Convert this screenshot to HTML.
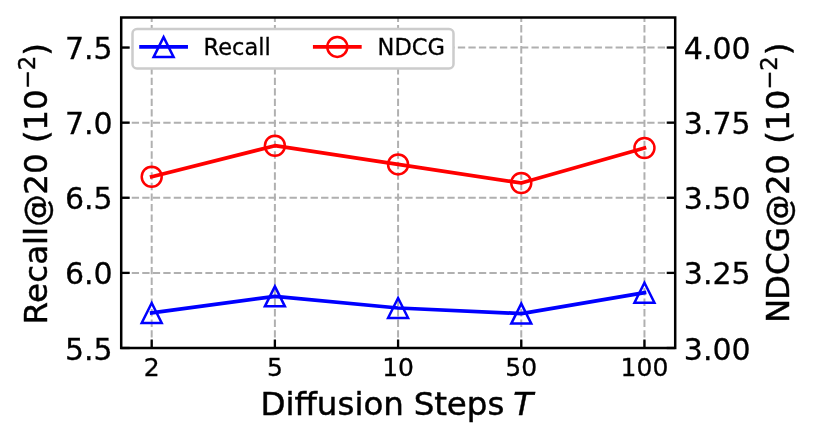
<!DOCTYPE html>
<html lang="en"><head><meta charset="utf-8"><title>Diffusion Steps T</title>
<style>html,body{margin:0;padding:0;background:#fff}svg{display:block}text{font-family:"DejaVu Sans","Liberation Sans",sans-serif;fill:#000;stroke:#000;stroke-width:0.3px}.b{stroke-width:0.45px}</style>
</head><body>
<svg width="815" height="441" viewBox="0 0 815 441">
<rect width="815" height="441" fill="#fff"/>
<g stroke="#b0b0b0" stroke-width="1.985" stroke-dasharray="7.34 3.18" fill="none">
<path d="M151.70 348.0V17.5"/>
<path d="M274.89 348.0V17.5"/>
<path d="M398.08 348.0V17.5"/>
<path d="M521.26 348.0V17.5"/>
<path d="M644.45 348.0V17.5"/>
<path d="M121.2 272.89H675.2"/>
<path d="M121.2 197.77H675.2"/>
<path d="M121.2 122.66H675.2"/>
<path d="M121.2 47.55H675.2"/>
</g>
<g stroke="#000" stroke-width="2.3" fill="none">
<path d="M151.70 348.0v-8.5"/>
<path d="M274.89 348.0v-8.5"/>
<path d="M398.08 348.0v-8.5"/>
<path d="M521.26 348.0v-8.5"/>
<path d="M644.45 348.0v-8.5"/>
<path d="M121.2 348.00h8.5"/>
<path d="M121.2 272.89h8.5"/>
<path d="M121.2 197.77h8.5"/>
<path d="M121.2 122.66h8.5"/>
<path d="M121.2 47.55h8.5"/>
<path d="M675.2 348.00h-8.5"/>
<path d="M675.2 272.89h-8.5"/>
<path d="M675.2 197.77h-8.5"/>
<path d="M675.2 122.66h-8.5"/>
<path d="M675.2 47.55h-8.5"/>
</g>
<polyline points="151.70,312.95 274.89,296.35 398.08,308.00 521.26,313.60 644.45,292.70" fill="none" stroke="#0000ff" stroke-width="3.75" stroke-linecap="square" stroke-linejoin="round"/>
<g fill="none" stroke="#0000ff" stroke-width="2.5" stroke-linejoin="miter" stroke-miterlimit="10">
<path d="M151.70 302.95L141.70 322.95H161.70Z"/>
<path d="M274.89 286.35L264.89 306.35H284.89Z"/>
<path d="M398.08 298.00L388.08 318.00H408.08Z"/>
<path d="M521.26 303.60L511.26 323.60H531.26Z"/>
<path d="M644.45 282.70L634.45 302.70H654.45Z"/>
</g>
<polyline points="151.70,176.70 274.89,145.70 398.08,164.40 521.26,183.00 644.45,148.00" fill="none" stroke="#ff0000" stroke-width="3.75" stroke-linecap="square" stroke-linejoin="round"/>
<g fill="none" stroke="#ff0000" stroke-width="2.5">
<circle cx="151.70" cy="176.70" r="10"/>
<circle cx="274.89" cy="145.70" r="10"/>
<circle cx="398.08" cy="164.40" r="10"/>
<circle cx="521.26" cy="183.00" r="10"/>
<circle cx="644.45" cy="148.00" r="10"/>
</g>
<rect x="121.2" y="17.5" width="554.00" height="330.50" fill="none" stroke="#000" stroke-width="2.5"/>
<rect x="132.5" y="29" width="321" height="39.4" rx="4.5" ry="4.5" fill="#fff" stroke="#cccccc" stroke-width="2.5"/>
<path d="M141.1 46.9H186.1" stroke="#0000ff" stroke-width="3.75" stroke-linecap="square"/>
<g fill="none" stroke="#0000ff" stroke-width="2.5" stroke-miterlimit="10"><path d="M163.60 37.10L153.60 57.10H173.60Z"/></g>
<path d="M314.8 46.9H359.8" stroke="#ff0000" stroke-width="3.75" stroke-linecap="square"/>
<circle cx="337.3" cy="46.9" r="10" fill="none" stroke="#ff0000" stroke-width="2.5"/>
<text x="203.6" y="54.7" font-size="22.5">Recall</text>
<text x="377.6" y="54.7" font-size="22.5">NDCG</text>
<g class="b" font-size="30" text-anchor="end">
<text x="112.6" y="359.85">5.5</text>
<text x="112.6" y="284.14">6.0</text>
<text x="112.6" y="209.02">6.5</text>
<text x="112.6" y="133.91">7.0</text>
<text x="112.6" y="58.80">7.5</text>
</g>
<g class="b" font-size="30">
<text x="683.8" y="359.85">3.00</text>
<text x="683.8" y="284.14">3.25</text>
<text x="683.8" y="209.02">3.50</text>
<text x="683.8" y="133.91">3.75</text>
<text x="683.8" y="58.80">4.00</text>
</g>
<g font-size="25" text-anchor="middle">
<text x="151.70" y="375.6">2</text>
<text x="274.89" y="375.6">5</text>
<text x="398.08" y="375.6">10</text>
<text x="521.26" y="375.6">50</text>
<text x="644.45" y="375.6">100</text>
</g>
<text class="b" x="260.4" y="414.9" font-size="32.5" dx="0 0 0 0 0 0 0 0 0 -0.6 0 0 -0.3">Diffusion Steps <tspan dx="-1.3" font-style="italic">T</tspan></text>
<text class="b" transform="translate(47.2 324.6) rotate(-90)" font-size="32.5" dx="0 0.4 0.35 0 0 0 0 -0.3 0 0 -0.15 -0.3">Recall@20 (10<tspan font-size="22.75" dy="-12.1">−2</tspan><tspan dy="12.1">)</tspan></text>
<text class="b" transform="translate(788.5 323.0) rotate(-90)" font-size="32.5" dx="0 -1.3 0 0 0 -0.45 -0.4">NDCG@20 (10<tspan font-size="22.75" dy="-12.0">−2</tspan><tspan dy="12.0" dx="0.9">)</tspan></text>
</svg>
</body></html>
